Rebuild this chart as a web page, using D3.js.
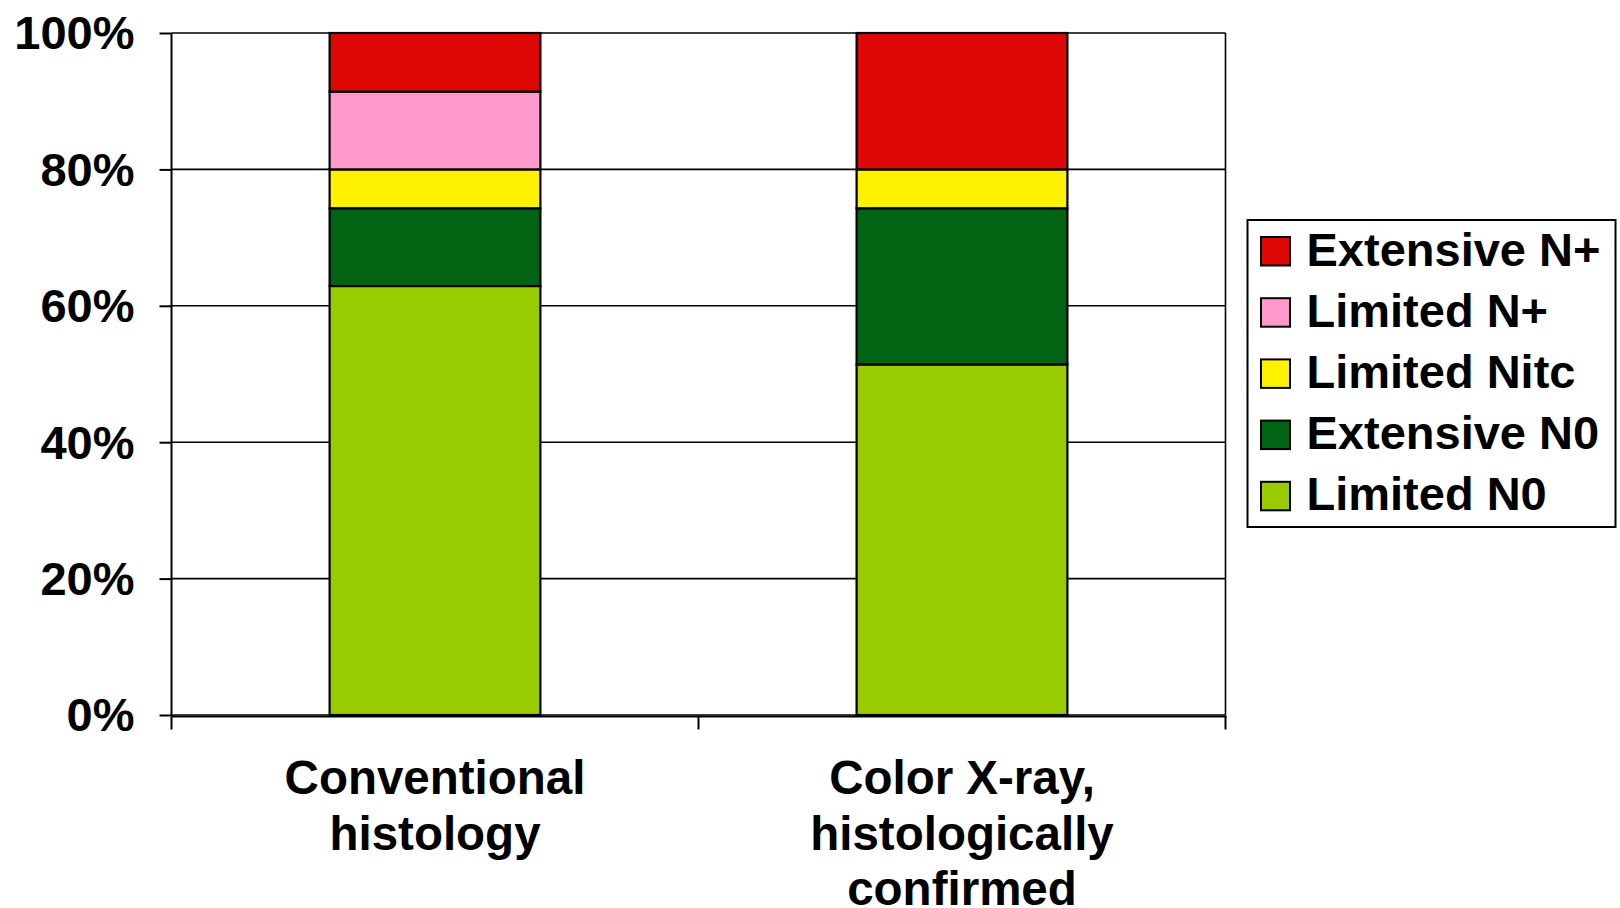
<!DOCTYPE html>
<html>
<head>
<meta charset="utf-8">
<script src="https://cdn.jsdelivr.net/npm/d3@7"></script>
<style>
  html, body { margin: 0; padding: 0; background: #fff; }
  svg { display: block; }
  text { font-family: "Liberation Sans", Arial, sans-serif; font-weight: bold; fill: #000; }
</style>
</head>
<body>
<svg id="chart" width="1620" height="908"></svg>
<script>
// ---- data ----
const categories = ["Conventional histology", "Color X-ray, histologically confirmed"];
const categoryLines = [["Conventional", "histology"], ["Color X-ray,", "histologically", "confirmed"]];
const seriesNames = ["Limited N0", "Extensive N0", "Limited Nitc", "Limited N+", "Extensive N+"];
const limitedN0 = [62.9, 51.4];
const extensiveN0 = [11.4, 22.9];
const limitedNitc = [5.7, 5.7];
const limitedNplus = [11.4, 0];
const extensiveNplus = [8.6, 20.0];
const yTicks = [0, 20, 40, 60, 80, 100];
const yTickLabels = ["0%", "20%", "40%", "60%", "80%", "100%"];
const colors = ["#99CC00", "#006412", "#FFF200", "#FF99CC", "#DD0806"];

const seriesValues = [limitedN0, extensiveN0, limitedNitc, limitedNplus, extensiveNplus];
const table = categories.map((c, i) => {
  const row = { category: c };
  seriesNames.forEach((s, j) => row[s] = seriesValues[j][i]);
  return row;
});

// ---- layout ----
const pL = 171.5, pR = 1225.5, pT = 33, pB = 715;
const svg = d3.select("#chart");

const x = d3.scaleBand().domain(categories).range([pL, pR]).paddingInner(0.6).paddingOuter(0.3);
const y = d3.scaleLinear().domain([0, 100]).range([pB, pT]);
const color = d3.scaleOrdinal().domain(seriesNames).range(colors);

// gridlines
svg.append("g").selectAll("line").data(yTicks).join("line")
  .attr("x1", pL).attr("x2", pR)
  .attr("y1", d => y(d)).attr("y2", d => y(d))
  .attr("stroke", "#000").attr("stroke-width", 1.6);

// right border of plot
svg.append("line").attr("x1", pR).attr("x2", pR).attr("y1", pT).attr("y2", pB)
  .attr("stroke", "#000").attr("stroke-width", 1.6);

// stacked bars
const stack = d3.stack().keys(seriesNames);
const layers = stack(table);
svg.append("g").selectAll("g").data(layers).join("g")
  .attr("fill", d => color(d.key))
  .selectAll("rect").data(d => d.filter(p => p[1] - p[0] > 0)).join("rect")
  .attr("x", d => x(d.data.category))
  .attr("width", x.bandwidth())
  .attr("y", d => y(d[1]))
  .attr("height", d => y(d[0]) - y(d[1]))
  .attr("stroke", "#000").attr("stroke-width", 2.2);

// y axis
const yAxis = d3.axisLeft(y).tickValues(yTicks)
  .tickFormat((d, i) => yTickLabels[i]).tickSize(12).tickPadding(25);
const ya = svg.append("g").attr("transform", `translate(${pL},0)`).call(yAxis);
ya.select(".domain").attr("stroke", "#000").attr("stroke-width", 2).attr("d", `M0,${pT}V${pB + 1}`);
ya.selectAll(".tick line").attr("stroke", "#000").attr("stroke-width", 2);
ya.selectAll(".tick text").attr("font-size", 47).attr("font-family", "'Liberation Sans', Arial, sans-serif")
  .attr("font-weight", "bold").attr("fill", "#000").attr("dy", "0.34em");

// x axis
const axisY = pB + 1.5;
svg.append("line").attr("x1", pL).attr("x2", pR + 1).attr("y1", axisY).attr("y2", axisY)
  .attr("stroke", "#000").attr("stroke-width", 2.2);
const boundaries = d3.range(categories.length + 1).map(i => x.range()[0] + i * x.step());
svg.append("g").selectAll("line").data(boundaries).join("line")
  .attr("x1", d => d).attr("x2", d => d).attr("y1", axisY).attr("y2", axisY + 13)
  .attr("stroke", "#000").attr("stroke-width", 2);

// category labels
const lab = svg.append("g").selectAll("text").data(categories).join("text")
  .attr("text-anchor", "middle").attr("font-size", 47.5)
  .attr("x", d => x(d) + x.bandwidth() / 2)
  .attr("y", 794);
lab.each(function(d, i) {
  const t = d3.select(this);
  categoryLines[i].forEach((ln, k) => {
    t.append("tspan").attr("x", x(d) + x.bandwidth() / 2).attr("y", 794 + k * 55.5).text(ln);
  });
});

// legend
const lgX = 1247.5, lgY = 220, lgW = 368, lgH = 307;
const legend = svg.append("g");
legend.append("rect").attr("x", lgX).attr("y", lgY).attr("width", lgW).attr("height", lgH)
  .attr("fill", "#fff").attr("stroke", "#000").attr("stroke-width", 2);
const legendOrder = seriesNames.slice().reverse();
const items = legend.selectAll("g.item").data(legendOrder).join("g")
  .attr("class", "item")
  .attr("transform", (d, i) => `translate(${lgX + 13.5},${237 + i * 61.2})`);
items.append("rect").attr("width", 29).attr("height", 28.5)
  .attr("fill", d => color(d)).attr("stroke", "#000").attr("stroke-width", 2);
items.append("text").attr("x", 45.5).attr("y", 28.5).attr("font-size", 47).text(d => d);
</script>
</body>
</html>
